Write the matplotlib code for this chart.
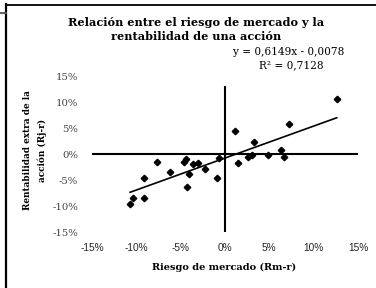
import matplotlib
matplotlib.use("Agg")
import matplotlib.pyplot as plt
from matplotlib.lines import Line2D
from matplotlib.ticker import FuncFormatter

# excess market return (Rm-r) and excess stock return (Rj-r), in %
market = [-10.7, -10.4, -9.1, -9.1, -7.7, -6.2, -4.6, -4.4, -4.3, -4.1, -3.6,
          -3.0, -2.3, -0.9, -0.7, 1.1, 1.5, 2.6, 3.0, 3.3, 4.9, 6.3, 6.7, 7.2, 12.6]
stock = [-9.7, -8.5, -8.5, -4.7, -1.6, -3.5, -1.6, -1.0, -6.3, -3.9, -2.0,
         -1.7, -2.8, -4.7, -0.7, 4.5, -1.7, -0.5, -0.2, 2.25, -0.1, 0.8, -0.5, 5.7, 10.6]

slope = 0.6149
intercept = -0.0078
r2 = 0.7128

ticks = [-15, -10, -5, 0, 5, 10, 15]

W, H = 376, 288
fig = plt.figure(figsize=(W / 100, H / 100), dpi=100)
ax = fig.add_axes([92 / W, 1 - 232 / H, (358 - 92) / W, (232 - 76) / H])

ax.plot(market, stock, 'D', color='black', markersize=3.3, zorder=3)

# trendline across the data range
xs = [min(market), max(market)]
ys = [slope * x + intercept * 100 for x in xs]
ax.plot(xs, ys, '-', color='black', linewidth=1.2)

ax.axhline(0, color='black', linewidth=1.5)
ax.axvline(0, ymax=0.93, color='black', linewidth=1.5)

ax.set_xlim(-15, 15)
ax.set_ylim(-15, 15)
ax.set_xticks(ticks)
ax.set_yticks(ticks)
pct = FuncFormatter(lambda v, p: f"{v:.0f}%")
ax.xaxis.set_major_formatter(pct)
ax.yaxis.set_major_formatter(pct)
for s in ax.spines.values():
    s.set_visible(False)
ax.tick_params(axis='both', length=0)
ax.tick_params(axis='x', pad=8, labelsize=7.3)
ax.tick_params(axis='y', pad=10, labelsize=7.3)
for lab in ax.get_xticklabels():
    lab.set_fontfamily('Liberation Sans')
    lab.set_color('#222222')
for lab in ax.get_yticklabels():
    lab.set_fontfamily('DejaVu Serif')
    lab.set_color('#444444')

fig.text(196 / W, 1 - 23 / H, "Relación entre el riesgo de mercado y la",
         ha='center', va='center', family='DejaVu Serif', weight='bold', fontsize=8.1)
fig.text(196 / W, 1 - 37 / H, "rentabilidad de una acción",
         ha='center', va='center', family='DejaVu Serif', weight='bold', fontsize=8.1)

fig.text(289 / W, 1 - 52 / H, f"y = {slope:.4f}x - {abs(intercept):.4f}".replace('.', ','),
         ha='center', va='center', family='DejaVu Serif', fontsize=7.6)
fig.text(291 / W, 1 - 65 / H, f"R² = {r2:.4f}".replace('.', ','),
         ha='center', va='center', family='DejaVu Serif', fontsize=7.6)

fig.text(224 / W, 1 - 267 / H, "Riesgo de mercado (Rm-r)",
         ha='center', va='center', family='DejaVu Serif', weight='bold', fontsize=7.0)
fig.text(35 / W, 1 - 150 / H, "Rentabilidad extra de la\nacción (Rj-r)",
         ha='center', va='center', rotation=90, linespacing=1.7,
         family='DejaVu Serif', weight='bold', fontsize=6.4)

# chart-area border (partial, as in the source)
fig.add_artist(Line2D([6 / W, 6 / W], [0, 1 - 4 / H], transform=fig.transFigure,
                      color='black', linewidth=1.6))
fig.add_artist(Line2D([6 / W, 1], [1 - 4.5 / H, 1 - 4.5 / H], transform=fig.transFigure,
                      color='black', linewidth=1.3))
fig.add_artist(Line2D([0, 6 / W], [1 - 13 / H, 1 - 13 / H], transform=fig.transFigure,
                      color='#555555', linewidth=1.3))

fig.savefig('out.png', dpi=100)
